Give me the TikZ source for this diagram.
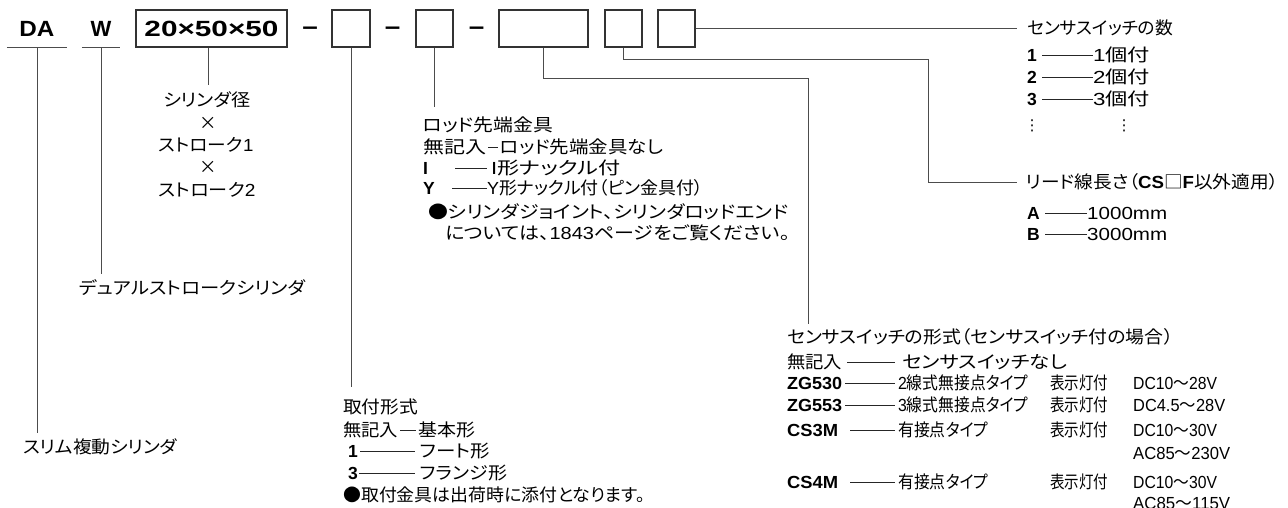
\documentclass[tikz,border=0pt]{standalone}
\usepackage{fontspec}
\usepackage{graphicx}
\setmainfont{Liberation Sans}
\newfontfamily\jpf{Noto Sans CJK JP}[RawFeature=+palt]
\newfontfamily\djv{DejaVu Sans}
\newcommand\jp[1]{{\jpf #1}}
\newcommand\fw[2]{\resizebox{#1pt}{\height}{#2}}
\newcommand\latsz{\fontsize{17.5}{20}\selectfont}
\newcommand\hdsz{\fontsize{22}{24}\selectfont\bfseries}
\begin{document}
\begin{tikzpicture}[x=1pt,y=-1pt,
  lbl/.style={inner sep=0pt, anchor=west, text height=12pt, text depth=0pt, font=\latsz},
  lblc/.style={lbl, anchor=center},
  code/.style={lbl, font=\latsz\bfseries},
  head/.style={inner sep=0pt, font=\hdsz, minimum height=37pt},
  codebox/.style={draw=black!80, line width=1.1pt, minimum height=37pt, inner sep=0pt, font=\hdsz},
  lead/.style={draw=black!70, line width=0.9pt},
  dl/.style={draw=black!85, line width=0.7pt}]
\useasboundingbox (0,0) rectangle (1288,507);

% ---- top row ----
\node[head, minimum width=60pt] (da) at (37,28.5) {\fw{35}{DA}};
\node[head, minimum width=38pt] (w) at (101,28.5) {W};
\node[codebox, minimum width=151pt] (b1) at (211.5,28.5) {\fw{134}{20×50×50}};
\node[head] (m1) at (310,31) {\fw{16}{−}};
\node[codebox, minimum width=38pt] (b2) at (351,28.5) {};
\node[head] (m2) at (392.5,31) {\fw{16}{−}};
\node[codebox, minimum width=37pt] (b3) at (434.5,28.5) {};
\node[head] (m3) at (476.5,31) {\fw{16}{−}};
\node[codebox, minimum width=89pt] (b4) at (543.5,28.5) {};
\node[codebox, minimum width=37pt] (b5) at (623.5,28.5) {};
\node[codebox, minimum width=37pt] (b6) at (676.5,28.5) {};

\draw[lead] (da.south west) -- (da.south east);
\draw[lead] (w.south west) -- (w.south east);

% ---- DA ----
\coordinate (daE) at (37,433);
\draw[lead] (da.south) -- (daE);
\node[lbl] (slim) at (23,447) {\fw{154}{\jp{スリム複動シリンダ}}};

% ---- W ----
\coordinate (wE) at (101,274);
\draw[lead] (w.south) -- (wE);
\node[lbl] (dual) at (79,288) {\fw{226}{\jp{デュアルストロークシリンダ}}};

% ---- bore x stroke ----
\coordinate (b1E) at (208,85);
\draw[lead] (b1E |- b1.south) -- (b1E);
\node[lblc] (cy1) at (207,100) {\fw{87}{\jp{シリンダ径}}};
\node[lblc] (cy2) at (208,123) {\jp{×}};
\node[lblc] (cy3) at (206,145) {\fw{95}{\jp{ストローク}1}};
\node[lblc] (cy4) at (208,167) {\jp{×}};
\node[lblc] (cy5) at (207,190) {\fw{97}{\jp{ストローク}2}};

% ---- mounting ----
\coordinate (b2E) at (351,387);
\draw[lead] (b2.south) -- (b2E);
\node[lbl] (mt0) at (343,407) {\fw{75}{\jp{取付形式}}};
\node[lbl] (mt1k) at (343,430) {\fw{55}{\jp{無記入}}};
\node[lbl] (mt1m) at (418,430) {\fw{57}{\jp{基本形}}};
\draw[dl] ([xshift=2pt]mt1k.east) -- ([xshift=-2pt]mt1m.west);
\node[code] (mt2k) at (348,451) {1};
\node[lbl] (mt2m) at (420,451) {\fw{70}{\jp{フート形}}};
\draw[dl] ([xshift=2pt]mt2k.east) -- ([xshift=-5pt]mt2m.west);
\node[code] (mt3k) at (348,473) {3};
\node[lbl] (mt3m) at (420,473) {\fw{87}{\jp{フランジ形}}};
\draw[dl] ([xshift=1pt]mt3k.east) -- ([xshift=-5pt]mt3m.west);
\node[lbl] (mt4) at (343,495) {\fw{302}{\jp{●取付金具は出荷時に添付となります。}}};

% ---- rod end ----
\coordinate (b3E) at (434.5,107);
\draw[lead] (b3.south) -- (b3E);
\node[lbl] (re0) at (423,125) {\fw{130}{\jp{ロッド先端金具}}};
\node[lbl] (re1k) at (423,147) {\fw{63}{\jp{無記入}}};
\node[lbl] (re1m) at (500,147) {\fw{163}{\jp{ロッド先端金具なし}}};
\draw[dl] ([xshift=2pt]re1k.east) -- ([xshift=-2pt]re1m.west);
\node[code] (re2k) at (423,168) {I};
\node[lbl] (re2m) at (491,168) {\fw{129}{I\jp{形ナックル付}}};
\draw[dl] ([xshift=27pt]re2k.east) -- ([xshift=-4pt]re2m.west);
\node[code] (re3k) at (423,188) {Y};
\node[lbl] (re3m) at (487,188) {\fw{216}{Y\jp{形ナックル付（ピン金具付）}}};
\draw[dl] ([xshift=17pt]re3k.east) -- (re3m.west);
\node[lbl] (re4) at (428,212) {\fw{360}{\jp{●シリンダジョイント、シリンダロッドエンド}}};
\node[lbl] (re5) at (445,233) {\fw{345}{\jp{については、}1843\jp{ページをご覧ください。}}};

% ---- sensor switch type ----
\coordinate (c4a) at (808,78);
\coordinate (c4b) at (808,324);
\draw[lead] (b4.south) |- (c4a) -- (c4b);
\node[lbl] (st) at (787,337) {\fw{386}{\jp{センサスイッチの形式（センサスイッチ付の場合）}}};
\node[lbl] (s0k) at (787,362) {\fw{55}{\jp{無記入}}};
\node[lbl] (s0m) at (902,362) {\fw{165}{\jp{センサスイッチなし}}};
\draw[dl] ([xshift=5pt]s0k.east) -- ([xshift=-7pt]s0m.west);
\node[code] (s1k) at (787,383) {\fw{55}{ZG530}};
\node[lbl] (s1m) at (898,383) {\fw{130}{2\jp{線式無接点タイプ}}};
\node[lbl] (s1l) at (1050,383) {\fw{58}{\jp{表示灯付}}};
\node[lbl] (s1v) at (1133,383) {\fw{84}{DC10\jp{～}28V}};
\draw[dl] ([xshift=3pt]s1k.east) -- ([xshift=-3pt]s1m.west);
\node[code] (s2k) at (787,405) {\fw{55}{ZG553}};
\node[lbl] (s2m) at (898,405) {\fw{130}{3\jp{線式無接点タイプ}}};
\node[lbl] (s2l) at (1050,405) {\fw{58}{\jp{表示灯付}}};
\node[lbl] (s2v) at (1133,405) {\fw{92}{DC4.5\jp{～}28V}};
\draw[dl] ([xshift=3pt]s2k.east) -- ([xshift=-3pt]s2m.west);
\node[code] (s3k) at (787,430) {\fw{51}{CS3M}};
\node[lbl] (s3m) at (898,430) {\fw{90}{\jp{有接点タイプ}}};
\node[lbl] (s3l) at (1050,430) {\fw{58}{\jp{表示灯付}}};
\node[lbl] (s3v) at (1133,430) {\fw{84}{DC10\jp{～}30V}};
\node[lbl] (s3w) at (1133,453) {\fw{97}{AC85\jp{～}230V}};
\draw[dl] ([xshift=12pt]s3k.east) -- ([xshift=-3pt]s3m.west);
\node[code] (s4k) at (787,482) {\fw{51}{CS4M}};
\node[lbl] (s4m) at (898,482) {\fw{90}{\jp{有接点タイプ}}};
\node[lbl] (s4l) at (1050,482) {\fw{58}{\jp{表示灯付}}};
\node[lbl] (s4v) at (1133,482) {\fw{84}{DC10\jp{～}30V}};
\node[lbl] (s4w) at (1133,503) {\fw{97}{AC85\jp{～}115V}};
\draw[dl] ([xshift=12pt]s4k.east) -- ([xshift=-3pt]s4m.west);

% ---- lead wire length ----
\coordinate (c5a) at (928,59);
\node[lbl] (lw) at (1026,182) {\fw{252}{\jp{リード線長さ（}\textbf{CS}\jp{□}\textbf{F}\jp{以外適用）}}};
\draw[lead] (b5.south) |- (c5a) |- ([xshift=-9pt]lw.west);
\node[code] (kA) at (1027,213) {A};
\node[lbl] (mA) at (1087,213) {\fw{80}{1000mm}};
\draw[dl] ([xshift=5pt]kA.east) -- (mA.west);
\node[code] (kB) at (1027,234) {B};
\node[lbl] (mB) at (1087,234) {\fw{80}{3000mm}};
\draw[dl] ([xshift=5pt]kB.east) -- (mB.west);

% ---- number of sensor switches ----
\node[lbl] (ns) at (1027,28.5) {\fw{146}{\jp{センサスイッチの数}}};
\draw[lead] (b6.east) -- ([xshift=-10pt]ns.west);
\node[code] (n1k) at (1027,55) {1};
\node[lbl] (n1m) at (1093,55) {\fw{57}{1\jp{個付}}};
\draw[dl] ([xshift=5pt]n1k.east) -- (n1m.west);
\node[code] (n2k) at (1027,77) {2};
\node[lbl] (n2m) at (1093,77) {\fw{57}{2\jp{個付}}};
\draw[dl] ([xshift=5pt]n2k.east) -- (n2m.west);
\node[code] (n3k) at (1027,99) {3};
\node[lbl] (n3m) at (1093,99) {\fw{57}{3\jp{個付}}};
\draw[dl] ([xshift=5pt]n3k.east) -- (n3m.west);
\node[lblc, font=\djv\fontsize{15}{17}\selectfont] (n4k) at (1032,124) {⋮};
\node[lblc, font=\djv\fontsize{15}{17}\selectfont] (n4m) at (1124,124) {⋮};
\end{tikzpicture}
\end{document}
